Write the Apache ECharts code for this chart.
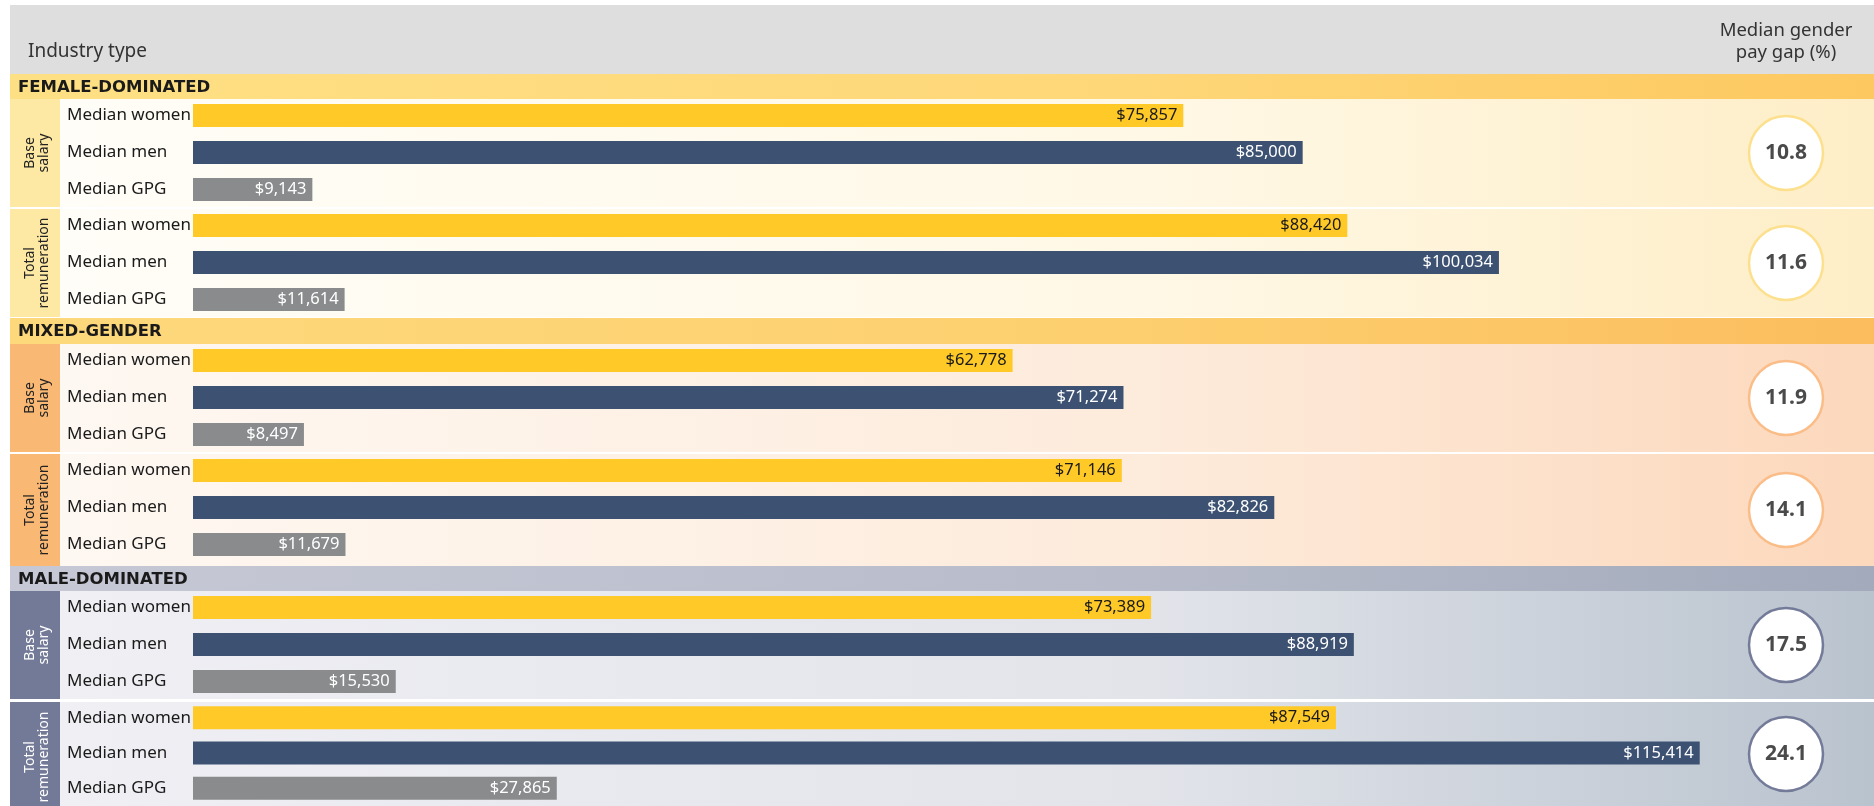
<!DOCTYPE html>
<html>
<head>
<meta charset="utf-8">
<script src="https://cdn.jsdelivr.net/npm/echarts@6/dist/echarts.min.js"></script>
<style>
html,body{margin:0;padding:0;background:#fff;}
#chart{width:1874px;height:806px;}
</style>
</head>
<body>
<div id="chart"></div>
<script>
// ---- data ----
const categories = ['Median women', 'Median men', 'Median GPG'];
const sections = ['FEMALE-DOMINATED', 'MIXED-GENDER', 'MALE-DOMINATED'];
const measures = ['Base\nsalary', 'Total\nremuneration', 'Base\nsalary', 'Total\nremuneration', 'Base\nsalary', 'Total\nremuneration'];
const women = [75857, 88420, 62778, 71146, 73389, 87549];
const men = [85000, 100034, 71274, 82826, 88919, 115414];
const gpg = [9143, 11614, 8497, 11679, 15530, 27865];
const gapPct = [10.8, 11.6, 11.9, 14.1, 17.5, 24.1];
const headerLeft = 'Industry type';
const headerRight = 'Median gender\npay gap (%)';

// ---- layout / style ----
const W = 1874;
const bandTops = [74, 318, 566];
const bandH = 25;
const blockTops = [99, 209, 344, 454, 591, 702];
const blockHs = [108, 108, 108, 112, 108, 110];
const barColors = ['#ffc928', '#3d5272', '#898b8c'];
const labelColors = ['#1a1a1a', '#ffffff', '#ffffff'];
const styles = [
  {band: ['#fee084', '#fed778', '#fdc860'], block: ['#fffdf7', '#fff8e6', '#feeec7'], tab: '#fde8a4', tabText: '#222', ring: '#fde08e'},
  {band: ['#fdd97c', '#fdcf6e', '#fbbd5e'], block: ['#fef8f2', '#fdebdb', '#fcd8bc'], tab: '#f9b873', tabText: '#222', ring: '#fbbd88'},
  {band: ['#c6c8d5', '#b8bcca', '#a2aabb'], block: ['#efeff4', '#e2e4ea', '#b9c3ce'], tab: '#737a97', tabText: '#ffffff', ring: '#737b99'}
];
const FONT = '"Noto Sans", "Open Sans", sans-serif';

function grad(stops) {
  return {type: 'linear', x: 0, y: 0, x2: 1, y2: 0, colorStops: [
    {offset: 0, color: stops[0]}, {offset: 0.6, color: stops[1]}, {offset: 1, color: stops[2]}
  ]};
}

const elements = [];
// header
elements.push({type: 'rect', shape: {x: 10, y: 5, width: W - 10, height: 69}, style: {fill: '#dedede'}, z: -10});
elements.push({type: 'text', x: 28, y: 52, style: {text: headerLeft, font: '19px ' + FONT, fill: '#333', textVerticalAlign: 'middle'}, z: -5});
elements.push({type: 'text', x: 1786, y: 42, style: {text: headerRight, font: '18.5px ' + FONT, fill: '#333', textAlign: 'center', textVerticalAlign: 'middle', lineHeight: 22}, z: -5});

sections.forEach((s, i) => {
  const st = styles[i];
  elements.push({type: 'rect', shape: {x: 10, y: bandTops[i], width: W - 10, height: bandH + (i === 1 ? 1 : 0)}, style: {fill: grad(st.band)}, z: -10});
  elements.push({type: 'text', x: 18, y: bandTops[i] + bandH / 2 + 1, style: {text: s, font: 'bold 16.5px "DejaVu Sans", sans-serif', fill: '#1a1a1a', textVerticalAlign: 'middle'}, z: -5});
});

blockTops.forEach((t, i) => {
  const st = styles[Math.floor(i / 2)];
  const h = blockHs[i];
  elements.push({type: 'rect', shape: {x: 60, y: t, width: W - 60, height: h}, style: {fill: grad(st.block)}, z: -10});
  elements.push({type: 'rect', shape: {x: 10, y: t, width: 50, height: h}, style: {fill: st.tab}, z: -9});
  elements.push({type: 'text', x: 37, y: t + h / 2, rotation: Math.PI / 2,
    style: {text: measures[i], font: '14px ' + FONT, fill: st.tabText, textAlign: 'center', textVerticalAlign: 'middle', lineHeight: 14}, z: -5});
});

const grids = [], xAxes = [], yAxes = [], series = [];
blockTops.forEach((t, i) => {
  grids.push({left: 193, width: 1566.6, top: t - 2, height: 111, containLabel: false});
  xAxes.push({type: 'value', gridIndex: i, min: 0, max: 120000, show: false});
  yAxes.push({type: 'category', gridIndex: i, data: categories, inverse: true,
    axisLine: {show: false}, axisTick: {show: false}, splitLine: {show: false},
    axisLabel: {align: 'left', margin: 126, fontSize: 17, fontFamily: FONT, color: '#1a1a1a'}});
  const vals = [women[i], men[i], gpg[i]];
  series.push({
    type: 'bar', xAxisIndex: i, yAxisIndex: i, barWidth: 23,
    data: vals.map((v, k) => ({value: v, itemStyle: {color: barColors[k]},
      label: {color: labelColors[k]}})),
    label: {show: true, position: 'insideRight', distance: 6, fontSize: 16.5, fontFamily: FONT,
      formatter: p => '$' + p.value.toLocaleString('en-US')},
    silent: true
  });
});
blockTops.forEach((t, i) => {
  const gi = 6 + i;
  const st = styles[Math.floor(i / 2)];
  grids.push({left: 1748, width: 76, top: t, height: blockHs[i]});
  xAxes.push({type: 'category', gridIndex: gi, data: ['gap'], show: false});
  yAxes.push({type: 'category', gridIndex: gi, data: ['gap'], show: false});
  series.push({
    type: 'scatter', xAxisIndex: gi, yAxisIndex: gi, symbol: 'circle', symbolSize: 74,
    data: [[0, 0, gapPct[i]]],
    itemStyle: {color: '#ffffff', borderColor: st.ring, borderWidth: 2.5, opacity: 1},
    label: {show: true, position: 'inside', fontSize: 21, fontWeight: 'bold', fontFamily: FONT, color: '#4a4a4a',
      formatter: p => p.value[2].toFixed(1)},
    silent: true
  });
});

const chart = echarts.init(document.getElementById('chart'), null, {renderer: 'canvas'});
chart.setOption({
  animation: false,
  backgroundColor: '#ffffff',
  graphic: {elements: elements},
  grid: grids, xAxis: xAxes, yAxis: yAxes, series: series
});
</script>
</body>
</html>
